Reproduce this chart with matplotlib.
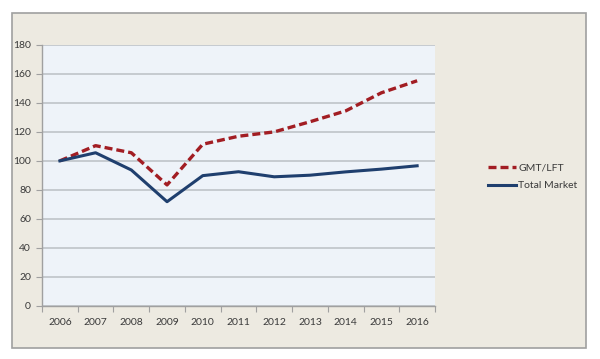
import matplotlib.pyplot as plt
from matplotlib.patches import Rectangle

# --- data ---
years = ['2006', '2007', '2008', '2009', '2010', '2011',
         '2012', '2013', '2014', '2015', '2016']
gmt_lft = [100, 110.5, 105.6, 83.4, 111.5, 117, 120, 127, 134.5, 147, 155.3]
total_market = [100, 105.6, 93.7, 71.8, 89.8, 92.5, 89, 90.1, 92.4, 94.3, 96.6]
y_ticks = [0, 20, 40, 60, 80, 100, 120, 140, 160, 180]

plt.rcParams['font.family'] = ['Lato', 'DejaVu Sans']

W, H = 600, 359
fig = plt.figure(figsize=(W / 100, H / 100), dpi=100)
fig.patch.set_facecolor('white')

# beige chart frame, behind the axes
fig.patches.append(Rectangle((12 / W, 1 - 348 / H), 574 / W, 335 / H,
                             transform=fig.transFigure, facecolor='#EDEAE1',
                             edgecolor='#A0A0A0', linewidth=1.2, zorder=-1))

ax = fig.add_axes([42 / W, 1 - 305.7 / H, 393 / W, 260.7 / H])
ax.set_facecolor('#EEF3F9')

x = range(len(years))
ax.plot(x, gmt_lft, color='#A21D23', linewidth=2.4, linestyle=(0, (2.4, 1.2)),
        label='GMT/LFT', zorder=3)
ax.plot(x, total_market, color='#1F3F6E', linewidth=2.2,
        label='Total Market', zorder=3)

ax.set_ylim(0, 180)
ax.set_yticks(y_ticks)
ax.yaxis.grid(True, color='#BFC3C8', linewidth=1.2)
ax.set_axisbelow(True)

ax.set_xlim(-0.5, len(years) - 0.5)
ax.set_xticks([i - 0.5 for i in range(len(years) + 1)])
ax.set_xticklabels([])
ax.set_xticks(list(x), minor=True)
ax.set_xticklabels(years, minor=True)
ax.tick_params(axis='x', which='minor', length=0, pad=9)
ax.tick_params(axis='x', which='major', length=4, color='#A0A0A0', direction='out')
ax.tick_params(axis='y', length=4, color='#A0A0A0', direction='out', pad=4)
ax.tick_params(which='both', labelsize=7.5, labelcolor='#3A3A3A')

for side in ['top', 'right']:
    ax.spines[side].set_visible(False)
for side in ['left', 'bottom']:
    ax.spines[side].set_color('#A0A0A0')
    ax.spines[side].set_linewidth(1.0)

fig.legend(loc='upper left', bbox_to_anchor=(488 / W, 1 - 163 / H),
           frameon=False, fontsize=7.5, handlelength=2.7, handletextpad=0.2,
           borderpad=0, borderaxespad=0, labelspacing=0.85,
           labelcolor='#3A3A3A')

fig.savefig('out.png', dpi=100)
